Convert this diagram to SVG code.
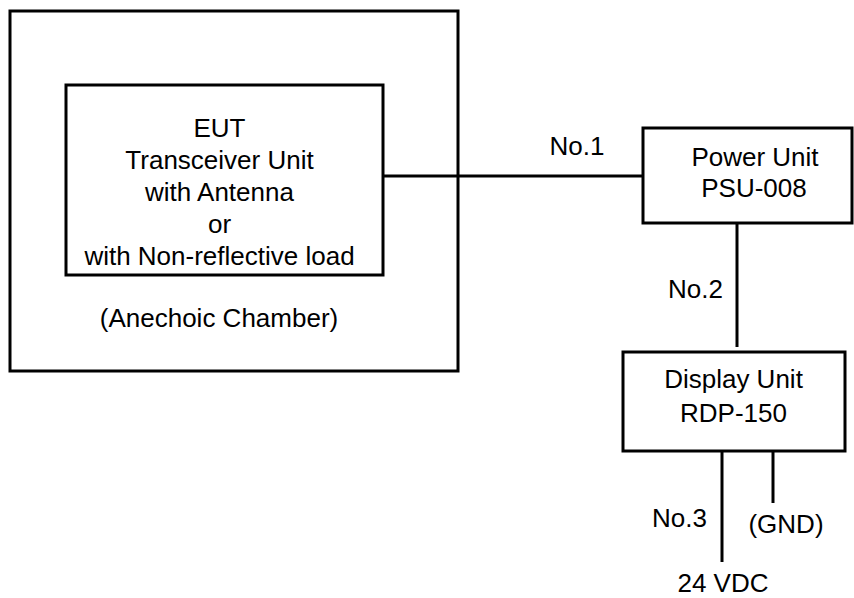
<svg xmlns="http://www.w3.org/2000/svg" width="854" height="598" viewBox="0 0 854 598">
<style>
.box{fill:none;stroke:#000;stroke-width:3}
.ln{stroke:#000;stroke-width:3;fill:none}
text{font-family:"Liberation Sans",Arial,sans-serif;font-size:26px;fill:#000}
.c{text-anchor:middle}
</style>
<rect x="0" y="0" width="854" height="598" fill="#fff"/>
<g id="chamber">
<rect class="box" x="10" y="11" width="448" height="360"/>
<text class="c" x="219" y="327">(Anechoic Chamber)</text>
</g>
<g id="eut">
<rect class="box" x="66" y="85" width="317" height="190"/>
<text class="c" x="219.5" y="137">EUT</text>
<text class="c" x="219.5" y="169">Transceiver Unit</text>
<text class="c" x="219.5" y="201">with Antenna</text>
<text class="c" x="219.5" y="233">or</text>
<text class="c" x="219.5" y="265">with Non-reflective load</text>
</g>
<g id="psu">
<rect class="box" x="643" y="128" width="209" height="95"/>
<text class="c" x="755" y="166">Power Unit</text>
<text class="c" x="754" y="197">PSU-008</text>
</g>
<g id="display">
<rect class="box" x="623" y="352" width="222" height="99"/>
<text class="c" x="733.5" y="388">Display Unit</text>
<text class="c" x="733.5" y="422">RDP-150</text>
</g>
<g id="connectors">
<line class="ln" x1="383" y1="176" x2="643" y2="176"/>
<line class="ln" x1="737" y1="223" x2="737" y2="347"/>
<line class="ln" x1="722" y1="451" x2="722" y2="562"/>
<line class="ln" x1="773" y1="451" x2="773" y2="503"/>
</g>
<g id="labels">
<text class="c" x="577" y="155">No.1</text>
<text class="c" x="695.5" y="298">No.2</text>
<text class="c" x="679.5" y="527">No.3</text>
<text class="c" x="786" y="533">(GND)</text>
<text class="c" x="723" y="592">24 VDC</text>
</g>
</svg>
